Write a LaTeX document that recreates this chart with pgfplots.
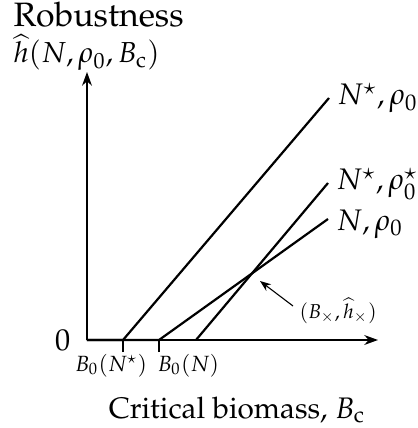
\documentclass[border=0pt]{standalone}
\usepackage[T1]{fontenc}
\usepackage{mathpazo}
\usepackage{pgfplots}
\pgfplotsset{compat=1.18}
\usetikzlibrary{arrows.meta}
\begin{document}
\begin{tikzpicture}
\begin{axis}[
  x=0.3636pt, y=0.3636pt,
  xmin=0, xmax=291, ymin=0, ymax=268,
  axis lines=left,
  axis line style={line width=0.45pt, -{Stealth[length=5pt,width=3.6pt]}},
  clip=false,
  xtick={36,72},
  xticklabels={},
  tick align=outside,
  major tick length=4.4pt,
  tick style={line width=0.45pt, black},
  ytick={0},
  major y tick style={draw=none},
  yticklabel style={font=\fontsize{11}{13}\selectfont, inner sep=1.5pt},
]
% robustness curves: zero until B_0, then rising linearly
\addplot[black, line width=0.8pt] coordinates {(0,0) (36,0) (242,242)};
\addplot[black, line width=0.8pt] coordinates {(109,0) (241,157)};
\addplot[black, line width=0.8pt] coordinates {(0,0) (72,0) (241,121)};

\node[anchor=base, inner sep=0pt, font=\footnotesize] at (axis cs:24,-31) {$B_0(N^\star)$};
\node[anchor=base west, inner sep=0pt, font=\footnotesize] at (axis cs:70,-31) {$B_0(N)$};

\begin{scope}[every node/.style={anchor=base west, inner sep=0pt, font=\fontsize{10.8}{13}\selectfont}]
\node at (axis cs:250,235) {$N^\star, \rho_0$};
\node at (axis cs:249,150) {$N^\star, \rho_0^\star$};
\node at (axis cs:249,110) {$N, \rho_0$};
\end{scope}

% crossing point
\draw[-{Stealth[length=4pt,width=3pt]}, line width=0.4pt] (axis cs:206,34) -- (axis cs:173,59);
\node[anchor=base west, inner sep=0pt, font=\fontsize{7.3}{9}\selectfont] at (axis cs:212,22) {$(B_\times,\widehat{h}_\times)$};

\node[anchor=base west, inner sep=0pt, font=\fontsize{12.3}{14}\selectfont] at (axis cs:-74,313) {Robustness};
\node[anchor=base west, inner sep=0pt, font=\fontsize{10.5}{13}\selectfont] at (axis cs:-74,277) {$\widehat{h}(N, \rho_0, B_\mathrm{c})$};
\node[anchor=base, inner sep=0pt, font=\fontsize{10.8}{13}\selectfont] at (axis cs:150,-78) {Critical biomass, $B_\mathrm{c}$};

\path (axis cs:-87,-88) rectangle (axis cs:323,340);
\end{axis}
\end{tikzpicture}
\end{document}
